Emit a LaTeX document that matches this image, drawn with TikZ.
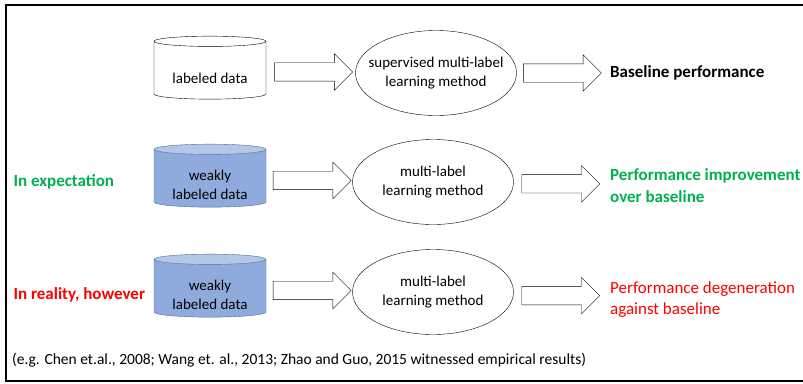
\documentclass[tikz,border=0pt]{standalone}
\usepackage{fontspec}
\setmainfont{Carlito}
\usetikzlibrary{shapes.geometric,shapes.arrows,calc}

\definecolor{dbfill}{RGB}{143,170,220}
\definecolor{dbtop}{RGB}{180,199,231}
\definecolor{dbline}{RGB}{65,113,156}
\definecolor{okgreen}{RGB}{0,176,80}
\definecolor{badred}{RGB}{255,0,0}

% texte un peu plus bas dans le cylindre
\newcommand{\dbdrop}[1]{\rule{0pt}{#1}}

\begin{document}
\begin{tikzpicture}[x=1pt, y=-1pt,
    font=\fontsize{15}{19}\selectfont,
    db/.style={cylinder, shape border rotate=90, draw, aspect=0.13,
      minimum width=112pt, minimum height=63pt, align=center, inner sep=2pt},
    weakdb/.style={db, draw=dbline, cylinder uses custom fill,
      cylinder body fill=dbfill, cylinder end fill=dbtop},
    method/.style={ellipse, draw, minimum width=161pt, minimum height=85pt,
      align=center, inner xsep=-12pt, inner ysep=0pt},
    blockarrow/.style={single arrow, draw, minimum height=78pt,
      inner sep=9pt, single arrow head extend=9pt},
    sidelabel/.style={anchor=west, font=\fontsize{17}{21}\selectfont\bfseries},
    result/.style={anchor=west, align=left, inner sep=2pt,
      font=\fontsize{17}{22}\selectfont\bfseries}]

  % Cadre
  \useasboundingbox (0,0) rectangle (803,383);
  \draw[line width=2pt] (803,5) -- (6,5) -- (6,381) -- (803,381);

  % Ligne 1
  \node[db] (d1) at (210,71) {\dbdrop{26pt}labeled data};
  \node[method] (m1) at (436,73) {supervised multi-label\\learning method};
  \node[result] (r1) at (608,73) {Baseline performance};
  \node[blockarrow] (a1) at ($(d1.east)!0.48!(m1.west)$) {};
  \node[blockarrow] (b1) at ($(m1.east)!0.45!(r1.west)$) {};

  % Ligne 2
  \node[sidelabel, text=okgreen] (l2) at (10,182) {In expectation};
  \node[weakdb] (d2) at (210,179) {\dbdrop{22pt}weakly\\labeled data};
  \node[method] (m2) at (433,182) {multi-label\\learning method};
  \node[result, text=okgreen] (r2) at (608,186) {Performance improvement\\over baseline};
  \node[blockarrow] (a2) at ($(d2.east)!0.48!(m2.west)$) {};
  \node[blockarrow] (b2) at ($(m2.east)!0.45!(r2.west)$) {};

  % Ligne 3
  \node[sidelabel, text=badred] (l3) at (10,295) {In reality, however};
  \node[weakdb] (d3) at (210,289) {\dbdrop{22pt}weakly\\labeled data};
  \node[method] (m3) at (433,292) {multi-label\\learning method};
  \node[result, text=badred, font=\fontsize{17}{21}\selectfont] (r3) at (608,300) {Performance degeneration\\against baseline};
  \node[blockarrow] (a3) at ($(d3.east)!0.48!(m3.west)$) {};
  \node[blockarrow] (b3) at ($(m3.east)!0.45!(r3.west)$) {};

  % Note
  \node[anchor=west, inner sep=2pt, font=\fontsize{15.5}{18}\selectfont] (note) at (10,360)
    {(e.g. Chen et.al., 2008; Wang et. al., 2013; Zhao and Guo, 2015 witnessed empirical results)};

\end{tikzpicture}
\end{document}
